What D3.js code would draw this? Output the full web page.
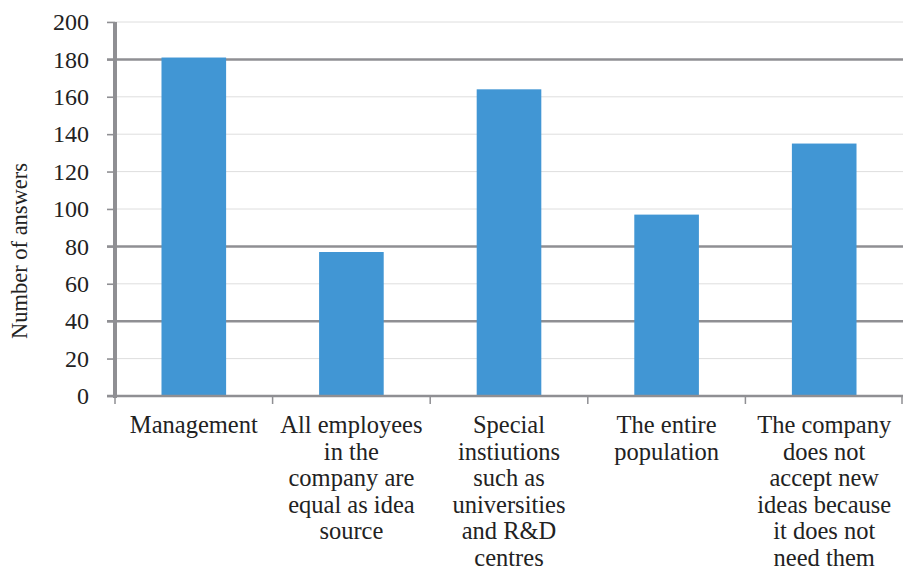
<!DOCTYPE html>
<html>
<head>
<meta charset="utf-8">
<script src="https://cdn.jsdelivr.net/npm/d3@7"></script>
<style>
  html, body { margin: 0; padding: 0; background: #fff; }
  svg { display: block; }
</style>
</head>
<body>
<svg id="chart" width="903" height="573"></svg>
<script>
// Survey: who is the source of new ideas in the company
const categories = [
  ["Management"],
  ["All employees", "in the", "company are", "equal as idea", "source"],
  ["Special", "instiutions", "such as", "universities", "and R&D", "centres"],
  ["The entire", "population"],
  ["The company", "does not", "accept new", "ideas because", "it does not", "need them"]
];
const answers = [181, 77, 164, 97, 135];
const yTicks = [0, 20, 40, 60, 80, 100, 120, 140, 160, 180, 200];
// grid lines drawn heavier in the original layout
const heavyGrid = [40, 80, 180];
const yTitle = "Number of answers";

const FONT = '"Liberation Serif", "Times New Roman", serif';
const INK = "#222";
const W = 903, H = 573;
const m = { left: 115, right: 0, top: 22, bottom: 177 };
const svg = d3.select("#chart");

const x = d3.scaleBand()
  .domain(d3.range(categories.length))
  .range([m.left, W - m.right])
  .paddingInner(0.59)
  .paddingOuter(0.295);

const y = d3.scaleLinear()
  .domain([0, 200])
  .range([H - m.bottom, m.top]);

// horizontal grid
svg.append("g")
  .selectAll("line")
  .data(yTicks.filter(d => d > 0))
  .join("line")
  .attr("x1", m.left - 8)
  .attr("x2", W)
  .attr("y1", d => y(d))
  .attr("y2", d => y(d))
  .attr("stroke", d => heavyGrid.includes(d) ? "#8f8f93" : "#dedede")
  .attr("stroke-width", d => heavyGrid.includes(d) ? 2.5 : 1);

// bars
svg.append("g")
  .selectAll("rect")
  .data(answers)
  .join("rect")
  .attr("x", (d, i) => x(i))
  .attr("width", x.bandwidth())
  .attr("y", d => y(d))
  .attr("height", d => y(0) - y(d))
  .attr("fill", "#4196d4");

// y axis
const yAxis = svg.append("g")
  .attr("transform", `translate(${m.left},0)`)
  .call(d3.axisLeft(y).tickValues(yTicks).tickSize(8).tickPadding(18))
  .attr("font-family", FONT);
yAxis.select(".domain").attr("stroke", "#8f8f93").attr("stroke-width", 4)
  .attr("d", `M0,${y(0) + 2}V${y(200)}`);
yAxis.selectAll(".tick line").attr("stroke", "#8f8f93").attr("stroke-width", 1.5);
yAxis.selectAll(".tick text")
  .attr("font-family", FONT)
  .style("font-family", FONT)
  .style("font-size", "24px")
  .attr("fill", INK);

// x axis baseline and category separators
const xBase = svg.append("g");
xBase.append("line")
  .attr("x1", m.left - 8).attr("x2", W)
  .attr("y1", y(0)).attr("y2", y(0))
  .attr("stroke", "#8f8f93").attr("stroke-width", 2.5);
const bounds = d3.range(categories.length + 1).map(i => m.left + i * (W - m.right - m.left) / categories.length);
xBase.selectAll("line.sep")
  .data(bounds)
  .join("line")
  .attr("class", "sep")
  .attr("x1", d => Math.min(d, W - 1)).attr("x2", d => Math.min(d, W - 1))
  .attr("y1", y(0)).attr("y2", y(0) + 8)
  .attr("stroke", "#8f8f93").attr("stroke-width", 1.5);

// category labels
const lab = svg.append("g")
  .attr("font-family", FONT)
  .selectAll("text")
  .data(categories)
  .join("text")
  .attr("text-anchor", "middle")
  .style("font-family", FONT)
  .style("font-size", "24.5px")
  .attr("fill", INK)
  .attr("transform", (d, i) => `translate(${x(i) + x.bandwidth() / 2},${y(0) + 37})`);
lab.selectAll("tspan")
  .data(d => d)
  .join("tspan")
  .attr("x", 0)
  .attr("y", (d, j) => j * 26.6)
  .text(d => d);

// y axis title
svg.append("text")
  .attr("transform", `translate(27,251) rotate(-90)`)
  .attr("text-anchor", "middle")
  .style("font-family", FONT)
  .style("font-size", "22.5px")
  .attr("fill", INK)
  .text(yTitle);
</script>
</body>
</html>
